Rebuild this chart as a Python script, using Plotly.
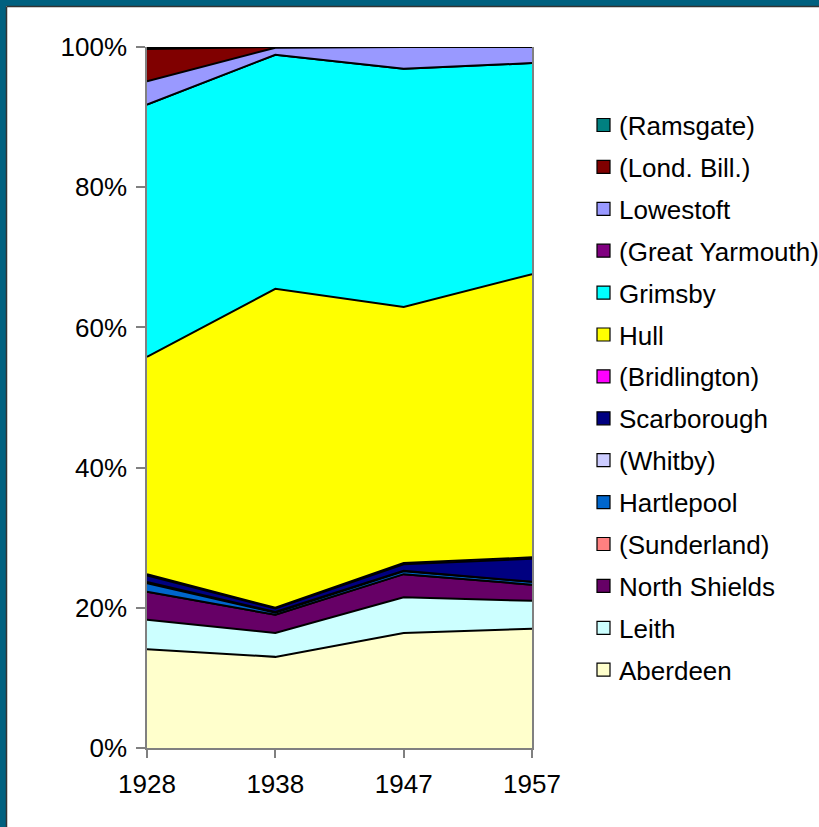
import plotly.graph_objects as go

# ---- data (percent share of landings) ----
years = ["1928", "1938", "1947", "1957"]

# stack order, bottom -> top
series_names = ["Aberdeen", "Leith", "North Shields", "(Sunderland)", "Hartlepool",
                "(Whitby)", "Scarborough", "(Bridlington)", "Hull", "Grimsby",
                "(Great Yarmouth)", "Lowestoft", "(Lond. Bill.)", "(Ramsgate)"]

aberdeen      = [14.1, 13.0, 16.4, 17.0]
leith         = [4.2, 3.4, 5.1, 4.0]
north_shields = [4.0, 2.6, 3.3, 2.3]
sunderland    = [0.0, 0.0, 0.0, 0.0]
hartlepool    = [1.2, 0.3, 0.4, 0.4]
whitby        = [0.2, 0.1, 0.1, 0.0]
scarborough   = [0.9, 0.5, 0.9, 3.3]
bridlington   = [0.2, 0.1, 0.2, 0.2]
hull          = [31.0, 45.5, 36.5, 40.4]
grimsby       = [36.0, 33.4, 34.0, 30.1]
great_yarmouth = [0.0, 0.0, 0.0, 0.0]
lowestoft     = [3.3, 1.0, 3.1, 2.3]
lond_bill     = [4.6, 0.1, 0.0, 0.0]
ramsgate      = [0.3, 0.0, 0.0, 0.0]

series_values = [aberdeen, leith, north_shields, sunderland, hartlepool, whitby,
                 scarborough, bridlington, hull, grimsby, great_yarmouth, lowestoft,
                 lond_bill, ramsgate]

series_colors = ["#FFFFCC", "#CCFFFF", "#660066", "#FF8080", "#0066CC", "#CCCCFF",
                 "#000080", "#FF00FF", "#FFFF00", "#00FFFF", "#800080", "#9999FF",
                 "#800000", "#008080"]

y_ticks = [0, 20, 40, 60, 80, 100]

# ---- figure ----
W, H = 819, 827
ML, MR, MT, MB = 147, 287, 47, 79
PW, PH = W - ML - MR, H - MT - MB

def fx(X):
    return (X - ML) / PW

def fy(Y):
    return (H - MB - Y) / PH

fig = go.Figure()
for name, vals, col in zip(series_names, series_values, series_colors):
    fig.add_trace(go.Scatter(
        x=years, y=vals, name=name, mode="lines",
        stackgroup="one", groupnorm="percent",
        fillcolor=col, line=dict(color="black", width=2),
        showlegend=False, hoverinfo="skip"))

axis_font = dict(family="Liberation Sans Narrow, Liberation Sans, Arial", size=26, color="black")

fig.update_layout(
    width=W, height=H,
    margin=dict(l=ML, r=MR, t=MT, b=MB),
    paper_bgcolor="white", plot_bgcolor="white",
    xaxis=dict(type="category", range=[0, 3], showgrid=False, zeroline=False,
               showline=True, linecolor="#808080", linewidth=1.5,
               ticks="outside", ticklen=8, tickcolor="#808080", tickwidth=1.5,
               tickfont=axis_font, ticklabelstandoff=4),
    yaxis=dict(range=[0, 100], tickvals=y_ticks,
               ticktext=[f"{v}%" for v in y_ticks],
               showgrid=False, zeroline=False, mirror=True,
               showline=True, linecolor="#808080", linewidth=1.5,
               ticks="outside", ticklen=9, tickcolor="#808080", tickwidth=1.5,
               tickfont=axis_font, ticklabelstandoff=4),
)

# ---- frame (dark teal border at top and left) ----
teal = "#00607F"
shapes = [
    dict(type="rect", xref="paper", yref="paper", x0=fx(0), x1=fx(W), y0=fy(6), y1=fy(0),
         fillcolor=teal, line=dict(width=0), layer="above"),
    dict(type="rect", xref="paper", yref="paper", x0=fx(0), x1=fx(6), y0=fy(H), y1=fy(0),
         fillcolor=teal, line=dict(width=0), layer="above"),
    dict(type="line", xref="paper", yref="paper", x0=fx(6.5), x1=fx(W), y0=fy(6.5), y1=fy(6.5),
         line=dict(color="#333333", width=1.5), layer="above"),
    dict(type="line", xref="paper", yref="paper", x0=fx(6.5), x1=fx(6.5), y0=fy(H), y1=fy(6.5),
         line=dict(color="#333333", width=1.5), layer="above"),
]

# ---- legend (top of stack first) ----
annotations = []
legend_names = series_names[::-1]
legend_colors = series_colors[::-1]
for i, (name, col) in enumerate(zip(legend_names, legend_colors)):
    cy = 125 + i * 41.9
    shapes.append(dict(type="rect", xref="paper", yref="paper",
                       x0=fx(597), x1=fx(610), y0=fy(cy + 6.5), y1=fy(cy - 6.5),
                       fillcolor=col, line=dict(color="black", width=1.2), layer="above"))
    annotations.append(dict(xref="paper", yref="paper", x=fx(617), y=fy(cy + 1),
                            text=name, showarrow=False, xanchor="left", yanchor="middle",
                            font=dict(family="Liberation Sans, Arial", size=26, color="black")))

fig.update_layout(shapes=shapes, annotations=annotations)

fig.write_html("out.html", config={"displayModeBar": False},
               post_script="document.body.style.margin='0';document.body.style.overflow='hidden';")
